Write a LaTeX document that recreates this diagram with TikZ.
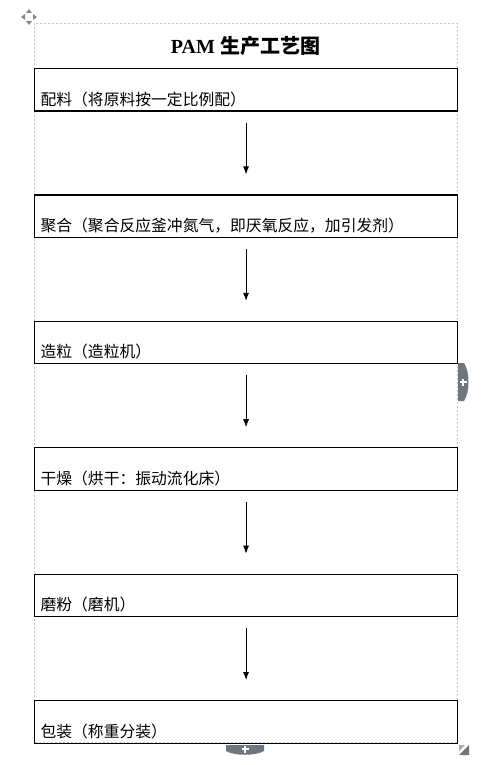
\documentclass[tikz,border=0pt]{standalone}
\usepackage{fontspec}
\setmainfont{Liberation Serif}
\newfontfamily\cjk{Noto Sans CJK SC}
\usetikzlibrary{arrows,arrows.meta}
\usetikzlibrary{positioning}

\definecolor{handlegray}{RGB}{110,118,128}

\begin{document}
\begin{tikzpicture}[x=1pt,y=1pt,>={Latex[length=8pt,width=6pt]},node distance=82.8pt,
    stepbox/.style={draw, line width=1.1pt, minimum width=423pt, text width=411pt,
        inner xsep=6pt, inner ysep=0pt, text height=36.5pt, text depth=6pt, align=left,
        font=\cjk\fontsize{15.8}{18}\selectfont},
    flow/.style={->, line width=0.8pt}]
        \useasboundingbox (0,0) rectangle (489,-765);
        % table frame
        \draw[gray!45, dash pattern=on 2pt off 2pt] (34,-23) rectangle (457,-742);

        \node[font=\bfseries\fontsize{20}{24}\selectfont] (title) at (245.5,-46) {PAM {\cjk 生产工艺图}};

        \node[stepbox, anchor=north west] (peiliao) at (34,-68) {配料（将原料按一定比例配）};
        \node[stepbox, below=of peiliao] (juhe) {聚合（聚合反应釜冲氮气，即厌氧反应，加引发剂）};
        \node[stepbox, below=of juhe] (zaoli) {造粒（造粒机）};
        \node[stepbox, below=of zaoli] (ganzao) {干燥（烘干：振动流化床）};
        \node[stepbox, below=of ganzao] (mofen) {磨粉（磨机）};
        \node[stepbox, below=of mofen] (baozhuang) {包装（称重分装）};

        \path[flow] ([yshift=-11pt]peiliao.south) edge ([yshift=20pt]juhe.north);
        \path[flow] ([yshift=-11pt]juhe.south) edge ([yshift=20pt]zaoli.north);
        \path[flow] ([yshift=-11pt]zaoli.south) edge ([yshift=20pt]ganzao.north);
        \path[flow] ([yshift=-11pt]ganzao.south) edge ([yshift=20pt]mofen.north);
        \path[flow] ([yshift=-11pt]mofen.south) edge ([yshift=20pt]baozhuang.north);

        % editor handles
        \fill[handlegray!85] (29,-9) -- (32,-13) -- (26,-13) -- cycle
            (29,-25) -- (32,-21) -- (26,-21) -- cycle
            (21,-17) -- (25,-14) -- (25,-20) -- cycle
            (37,-17) -- (33,-14) -- (33,-20) -- cycle;
        \fill[handlegray] (458,-363) -- (464,-363) .. controls (470,-372) and (470,-392) .. (464,-401) -- (458,-401) -- cycle;
        \draw[white, line width=1.6pt] (459.5,-382) -- (466.5,-382) (463,-378.5) -- (463,-385.5);
        \fill[handlegray] (226,-745) -- (264,-745) -- (264,-751) .. controls (256,-756) and (234,-756) .. (226,-751) -- cycle;
        \draw[white, line width=1.6pt] (241.5,-749) -- (248.5,-749) (245,-745.5) -- (245,-752.5);
        \fill[handlegray] (459,-755) -- (469,-745) -- (469,-755) -- cycle;
        \fill[handlegray!60] (459,-745) -- (465,-745) -- (459,-751) -- cycle;
    \end{tikzpicture}
\end{document}
